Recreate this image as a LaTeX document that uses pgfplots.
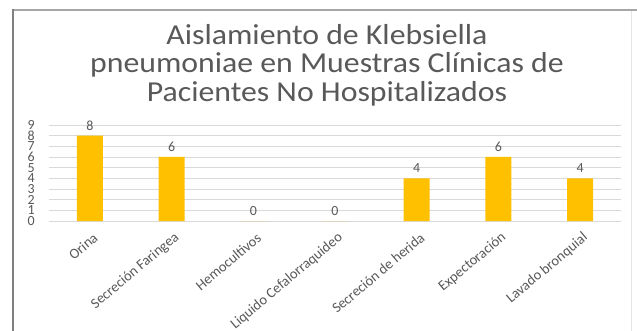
\documentclass[border=0pt]{standalone}
\usepackage{fontspec}
\setmainfont{Carlito}
\usepackage{graphicx}
\usepackage{pgfplots}
\pgfplotsset{compat=1.18}
\definecolor{bargold}{HTML}{FFC000}
\definecolor{txtgray}{HTML}{595959}
\definecolor{gridgray}{HTML}{D9D9D9}
\begin{document}
\begin{tikzpicture}
\useasboundingbox (0,0) rectangle (637bp,331bp);
\fill[white] (0,0) rectangle (637bp,331bp);
\begin{axis}[
  at={(49bp,110bp)}, anchor=south west,
  scale only axis, width=572bp, height=96bp,
  ymin=0, ymax=9, ytick={0,...,9},
  xmin=-0.5, xmax=6.5,
  xtick={0,...,6},
  xticklabels={Orina,Secreción Faringea,Hemocultivos,Liquido Cefalorraquideo,Secreción de herida,Expectoración,Lavado bronquial},
  xticklabel style={rotate=40, anchor=east, font=\fontsize{14.5}{14.5}\selectfont, text=txtgray, inner sep=1pt, yshift=-15bp, xshift=-4bp},
  yticklabel style={font=\fontsize{14}{14}\selectfont, text=txtgray, inner sep=0pt, xshift=-14bp},
  /pgf/number format/assume math mode=true,
  major tick length=0pt,
  axis line style={draw=none},
  ymajorgrids, grid style={gridgray, line width=0.8pt},
  ybar, bar width=26bp,
  nodes near coords,
  every node near coord/.append style={font=\fontsize{14}{14}\selectfont, text=txtgray, yshift=2bp},
  clip=false,
]
\addplot[fill=bargold, draw=none] coordinates {(0,8) (1,6) (2,0) (3,0) (4,4) (5,6) (6,4)};
\end{axis}
\draw[color=gray!70, line width=2pt] (12bp,321bp) -- (637bp,321bp);
\draw[color=gray, line width=2pt] (13bp,322bp) -- (13bp,0);
\draw[color=gray!20, line width=0.8pt] (631bp,320bp) -- (631bp,0);
\node[text=txtgray, anchor=north, inner sep=0pt] at (327bp,307bp) {\scalebox{1.1}[1]{\fontsize{29}{28.5}\selectfont\begin{tabular}{@{}c@{}}Aislamiento de Klebsiella\\pneumoniae en Muestras Clínicas de\\Pacientes No Hospitalizados\end{tabular}}};
\end{tikzpicture}
\end{document}
